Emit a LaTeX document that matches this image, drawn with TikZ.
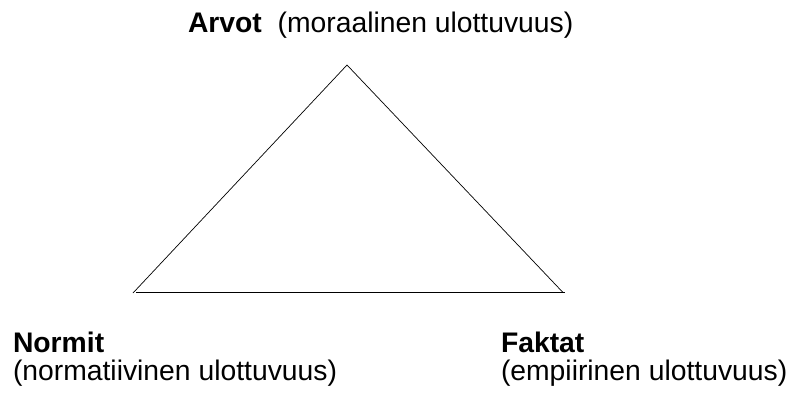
\documentclass[tikz,border=0pt]{standalone}
\usepackage{fontspec}
\setmainfont{Liberation Sans}
\begin{document}
\begin{tikzpicture}[x=1pt,y=-1pt,
  lbl/.style={anchor=base west,inner sep=0pt,outer sep=0pt,font=\fontsize{28.3}{30}\selectfont}]
\useasboundingbox (0,0) rectangle (795,392);
\coordinate (apex) at (347,65);
\coordinate (left) at (133,293);
\coordinate (right) at (563,292.5);
\coordinate (bl) at (136,292.5);
\coordinate (br) at (565,292.5);
\draw[line width=0.7pt] (left) -- (apex) -- (right);
\draw[line width=1pt] (bl) -- (br);
\node[lbl] (arvot) at (188,32) {\textbf{Arvot}\ \ (moraalinen ulottuvuus)};
\node[lbl] (normit) at (13,352) {\textbf{Normit}};
\node[lbl] (normdim) at (13,380) {(normatiivinen ulottuvuus)};
\node[lbl] (faktat) at (501,352) {\textbf{Faktat}};
\node[lbl] (faktdim) at (501,380) {(empiirinen ulottuvuus)};
\end{tikzpicture}
\end{document}
